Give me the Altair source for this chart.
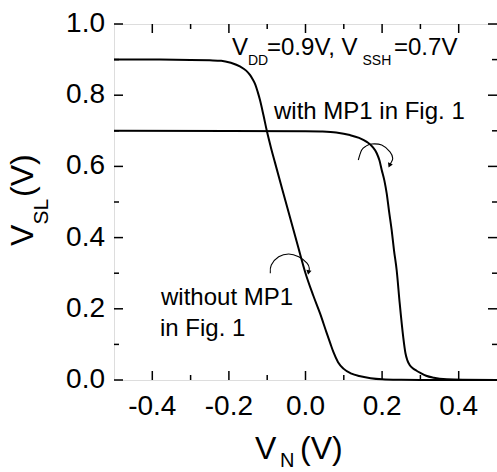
import altair as alt
import pandas as pd

FONT = "Liberation Sans"

# ---- data ----
# curve "without MP1" (V_DD = 0.9 V)
vn_without = [-0.50, -0.40, -0.30, -0.25, -0.22, -0.195, -0.17, -0.155, -0.145, -0.138,
              -0.131, -0.125, -0.119, -0.11, -0.101, -0.09, -0.08, -0.06, -0.04, -0.02,
              0.00, 0.02, 0.038, 0.055, 0.065, 0.073, 0.085, 0.099, 0.12, 0.14,
              0.17, 0.20, 0.25, 0.30, 0.50]
vsl_without = [0.900, 0.900, 0.899, 0.898, 0.897, 0.891, 0.880, 0.869, 0.857, 0.845,
               0.830, 0.810, 0.787, 0.745, 0.700, 0.652, 0.612, 0.533, 0.455, 0.377,
               0.300, 0.238, 0.187, 0.133, 0.102, 0.078, 0.050, 0.032, 0.018, 0.011,
               0.005, 0.002, 0.0005, 0.0, 0.0]

# curve "with MP1" (V_SSH = 0.7 V)
vn_with = [-0.50, 0.00, 0.04, 0.08, 0.116, 0.14, 0.16, 0.175, 0.186, 0.193,
           0.199, 0.206, 0.212, 0.218, 0.225, 0.231, 0.238, 0.246, 0.255, 0.261,
           0.266, 0.272, 0.280, 0.290, 0.300, 0.315, 0.335, 0.369, 0.41, 0.50]
vsl_with = [0.700, 0.699, 0.698, 0.695, 0.688, 0.680, 0.669, 0.655, 0.637, 0.617,
            0.590, 0.560, 0.524, 0.475, 0.421, 0.365, 0.309, 0.215, 0.122, 0.075,
            0.055, 0.042, 0.033, 0.026, 0.020, 0.012, 0.0065, 0.002, 0.0005, 0.0]

# curved annotation arrows (data units)
arrow1_x = [0.1379, 0.1467, 0.158, 0.1728, 0.199, 0.2206, 0.2277, 0.2232, 0.2193]
arrow1_y = [0.618, 0.646, 0.657, 0.663, 0.660, 0.641, 0.623, 0.610, 0.6025]
arrow2_x = [-0.0919, -0.0893, -0.0700, -0.0439, -0.0177, 0.0039, 0.0099, 0.0078]
arrow2_y = [0.300, 0.323, 0.346, 0.354, 0.346, 0.328, 0.314, 0.302]
head_x = [0.2193, 0.0078]
head_y = [0.6025, 0.302]
head_angle = [24, 11]

# ticks and tick labels
x_major = [-0.4, -0.2, 0.0, 0.2, 0.4]
x_labels = ["-0.4", "-0.2", "0.0", "0.2", "0.4"]
x_minor = [-0.3, -0.1, 0.1, 0.3]
y_major = [0.0, 0.2, 0.4, 0.6, 0.8, 1.0]
y_labels = ["0.0", "0.2", "0.4", "0.6", "0.8", "1.0"]
y_minor = [0.1, 0.3, 0.5, 0.7, 0.9]

W, H = 383, 356
MAJ, MIN = 9, 5

xs = alt.Scale(domain=[-0.5, 0.5], nice=False, zero=False)
ys = alt.Scale(domain=[0, 1.0], nice=False, zero=False)

curves = pd.DataFrame({
    "vn": vn_without + vn_with,
    "vsl": vsl_without + vsl_with,
    "s": ["without"] * len(vn_without) + ["with"] * len(vn_with),
})

base = alt.Chart(curves).mark_line(color="black", strokeWidth=2, interpolate="monotone").encode(
    x=alt.X("vn:Q", scale=xs, axis=None),
    y=alt.Y("vsl:Q", scale=ys, axis=None),
    detail="s:N",
)

layers = [base]


def xticks(vals, y0, y1):
    return alt.Chart(pd.DataFrame({"v": vals})).mark_rule(color="black", strokeWidth=1.5).encode(
        x=alt.X("v:Q", scale=xs, axis=None), y=alt.value(y0), y2=alt.value(y1))


def yticks(vals, x0, x1):
    return alt.Chart(pd.DataFrame({"v": vals})).mark_rule(color="black", strokeWidth=1.5).encode(
        y=alt.Y("v:Q", scale=ys, axis=None), x=alt.value(x0), x2=alt.value(x1))


layers += [
    xticks(x_major, H, H - MAJ), xticks(x_minor, H, H - MIN),
    xticks(x_major, 0, MAJ), xticks(x_minor, 0, MIN),
    yticks(y_major, 0, MAJ), yticks(y_minor, 0, MIN),
    yticks(y_major, W, W - MAJ), yticks(y_minor, W, W - MIN),
]

# tick labels
layers.append(
    alt.Chart(pd.DataFrame({"v": x_major, "t": x_labels})).mark_text(
        font=FONT, fontSize=28, align="center", baseline="alphabetic", color="black"
    ).encode(x=alt.X("v:Q", scale=xs, axis=None), y=alt.value(H + 35), text="t:N")
)
layers.append(
    alt.Chart(pd.DataFrame({"v": y_major, "t": y_labels})).mark_text(
        font=FONT, fontSize=28, align="right", baseline="middle", color="black"
    ).encode(y=alt.Y("v:Q", scale=ys, axis=None), x=alt.value(-9), text="t:N")
)

arrows = pd.DataFrame({
    "x": arrow1_x + arrow2_x,
    "y": arrow1_y + arrow2_y,
    "a": ["a1"] * len(arrow1_x) + ["a2"] * len(arrow2_x),
    "i": list(range(len(arrow1_x))) + list(range(len(arrow2_x))),
})
layers.append(
    alt.Chart(arrows).mark_line(color="black", strokeWidth=1.1, interpolate="cardinal").encode(
        x=alt.X("x:Q", scale=xs, axis=None), y=alt.Y("y:Q", scale=ys, axis=None),
        detail="a:N", order="i:Q")
)
heads = pd.DataFrame({"x": head_x, "y": head_y, "ang": head_angle})
layers.append(
    alt.Chart(heads).mark_point(shape="triangle-down", filled=True, color="black", size=28, opacity=1).encode(
        x=alt.X("x:Q", scale=xs, axis=None), y=alt.Y("y:Q", scale=ys, axis=None),
        angle=alt.Angle("ang:Q", scale=None))
)


def txt(s, x, y, size, angle=0):
    return alt.Chart(pd.DataFrame({"t": [s]})).mark_text(
        font=FONT, fontSize=size, align="left", baseline="alphabetic", angle=angle, color="black"
    ).encode(text="t:N", x=alt.value(x), y=alt.value(y))


layers += [
    # condition label
    txt("V", 118, 31, 24), txt("DD", 134, 41, 14), txt("=0.9V, V", 153, 31, 24),
    txt("SSH", 248.5, 41, 14), txt("=0.7V", 280, 31, 24),
    txt("with MP1 in Fig. 1", 160, 95, 24),
    txt("without MP1", 47, 281, 24), txt("in Fig. 1", 46, 312, 24),
    # x title
    txt("V", 141, 435, 32), txt("N", 166, 443, 20), txt("(V)", 186, 435, 32),
    # y title
    txt("V", -81, 222, 32, 270), txt("SL", -66, 200.5, 21, 270), txt("(V)", -81, 173, 32, 270),
]

chart = alt.layer(*layers).properties(
    width=W, height=H, autosize="none",
    padding={"left": 114, "top": 24, "right": 0, "bottom": 92},
).configure_view(stroke="black", strokeWidth=2).configure(background="white")

chart.save("out.html", embed_options={"renderer": "svg", "actions": False})
